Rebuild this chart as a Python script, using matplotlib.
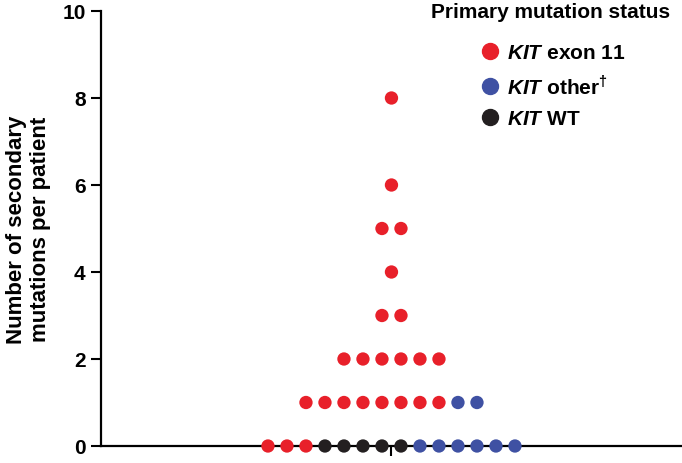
import numpy as np
import matplotlib.pyplot as plt
from matplotlib.lines import Line2D

plt.rcParams['font.family'] = ['Liberation Sans', 'DejaVu Sans']
plt.rcParams['font.weight'] = 'bold'
plt.rcParams['mathtext.fontset'] = 'custom'
plt.rcParams['mathtext.rm'] = 'Liberation Sans:bold'
plt.rcParams['mathtext.bf'] = 'Liberation Sans:bold'
plt.rcParams['mathtext.bfit'] = 'Liberation Sans:italic:bold'

### Data: number of secondary mutations per patient, by primary mutation
exon11 = [0, 0, 0, 1, 1, 1, 1, 1, 1, 1, 1, 2, 2, 2, 2, 2, 2, 3, 3, 4, 5, 5, 6, 8]
wt = [0, 0, 0, 0, 0]
other = [0, 0, 0, 0, 0, 0, 1, 1]

groups = ["KIT exon 11", "KIT WT", "KIT other"]
values = [exon11, wt, other]
colors = ["#e8202a", "#231f20", "#3f51a3"]

# beeswarm layout: dots in the same row sit side by side, centred on 0
spacing = 0.0654
rows = {}
for g, vals in enumerate(values):
    for v in vals:
        rows.setdefault(v, []).append(g)

fig = plt.figure(figsize=(6.82, 4.64), dpi=100)
ax = fig.add_axes([0.148, 1 - 447 / 464, 0.852, (447 - 12) / 464])

for v, members in rows.items():
    n = len(members)
    xs = (np.arange(n) - (n - 1) / 2) * spacing
    for x, g in zip(xs, members):
        ax.scatter(x, v, s=92, color=colors[g], edgecolors='none', zorder=3, clip_on=False)

ax.set_xlim(-1, 1)
ax.set_ylim(0, 10)
ax.set_yticks([0, 2, 4, 6, 8, 10])
ax.set_xticks([0])
ax.set_xticklabels([""])
ax.tick_params(axis='both', width=1.5, length=7, labelsize=15, pad=4)
for s in ["top", "right"]:
    ax.spines[s].set_visible(False)
for s in ["left", "bottom"]:
    ax.spines[s].set_linewidth(1.6)
ax.set_ylabel("Number of secondary\nmutations per patient", fontsize=16, fontweight='bold',
              labelpad=8, linespacing=1.2)

fig.text(431 / 682, 1 - 12 / 464, "Primary mutation status", fontsize=15, fontweight='bold', va='center', ha='left')

labels = [r"$\mathbfit{KIT}$ exon 11", r"$\mathbfit{KIT}$ other$^{\dagger}$", r"$\mathbfit{KIT}$ WT"]
leg_colors = [colors[0], colors[2], colors[1]]
handles = [Line2D([], [], marker='o', linestyle='', markersize=11.5, color=c) for c in leg_colors]
fig.legend(handles, labels, loc='upper left', bbox_to_anchor=(477 / 682, 1 - 44 / 464), frameon=False,
           fontsize=15, handletextpad=0.25, labelspacing=0.55, handlelength=1.2, borderaxespad=0, borderpad=0)

plt.savefig("out.png", dpi=100)
